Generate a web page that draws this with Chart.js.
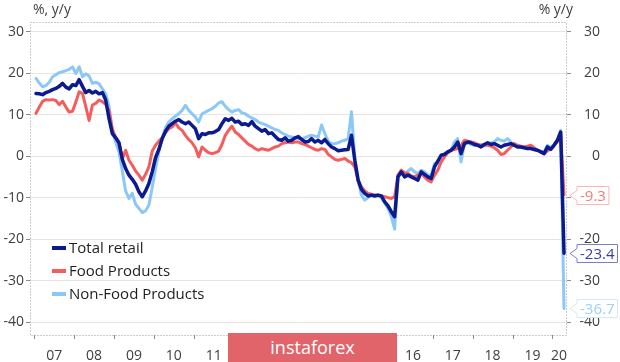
<!DOCTYPE html>
<html>
<head>
<meta charset="utf-8">
<script src="https://cdn.jsdelivr.net/npm/chart.js@4.4.1/dist/chart.umd.min.js"></script>
<style>
  html, body { margin: 0; padding: 0; background: #fff; }
  #wrap { position: relative; width: 620px; height: 362px; }
  #badge {
    position: absolute; left: 228px; top: 333px; width: 169px; height: 29px;
    background: #e1646a; color: #fff; font: 18px "Open Sans", sans-serif;
    text-align: center; line-height: 28px;
  }
</style>
</head>
<body>
<div id="wrap">
  <canvas id="retail-chart" width="620" height="362"></canvas>
  <div id="badge">instaforex</div>
</div>
<script>
// monthly, Jan 2007 .. Apr 2020
const years = ["07", "08", "09", "10", "11", "12", "13", "14", "15", "16", "17", "18", "19", "20"];
const yTicks = [30, 20, 10, 0, -10, -20, -30, -40];

const totalRetail = [
  15.1, 15.0, 14.8, 15.3, 15.6, 16.0, 16.3, 16.8, 17.5, 16.6, 16.2, 17.2,
  17.0, 18.4, 16.8, 15.3, 15.8, 15.2, 15.6, 15.0, 15.3, 13.5, 9.0, 5.4,
  4.4, 3.2, -0.8, -3.0, -4.6, -5.6, -6.8, -8.6, -9.8, -8.4, -6.6, -3.8,
  -0.4, 1.6, 4.2, 6.0, 7.2, 7.8, 8.4, 8.8, 8.2, 7.8, 8.2, 7.4,
  6.6, 4.2, 5.4, 5.2, 5.6, 5.6, 5.9, 6.4, 7.8, 9.0, 8.6, 9.1,
  8.2, 8.4, 7.6, 7.8, 7.4, 8.3, 7.2, 6.6, 6.0, 6.4, 5.4, 5.6,
  4.8, 4.0, 3.8, 4.4, 3.6, 3.8, 4.4, 4.7, 4.0, 3.4, 3.5, 4.2,
  3.4, 3.8, 3.2, 4.0, 3.0, 2.2, 1.8, 1.3, 1.4, 1.5, 1.6, 5.0,
  -1.0, -5.8, -8.0, -9.0, -9.6, -9.4, -9.6, -9.4, -9.6, -11.0, -12.0, -13.4,
  -14.6, -5.0, -3.8, -5.0, -4.6, -5.0, -5.4, -5.8, -3.8, -4.4, -5.0, -5.4,
  -2.6, -1.2, 0.2, 0.4, 1.0, 1.4, 2.2, 3.4, 0.6, 3.0, 3.4, 3.2,
  2.8, 2.6, 2.2, 2.8, 3.2, 2.8, 3.0, 2.6, 2.2, 2.6, 2.8, 3.0,
  2.6, 2.2, 2.2, 2.0, 1.8, 1.8, 1.6, 1.4, 1.0, 0.6, 2.2, 1.6,
  2.6, 3.8, 5.8, -23.4
];

const foodProducts = [
  10.3, 11.8, 13.2, 13.6, 13.5, 13.6, 13.4, 12.4, 13.2, 11.8, 10.6, 10.8,
  13.0, 15.5, 15.1, 11.9, 8.6, 12.3, 12.7, 13.5, 13.1, 12.5, 11.0, 6.5,
  4.5, 3.1, -0.6, 1.4, -1.0, -2.2, -3.6, -4.6, -5.8, -4.4, -2.6, 1.2,
  2.6, 3.6, 4.4, 5.6, 6.6, 7.0, 8.0, 6.8, 6.2, 5.0, 4.0, 3.2,
  2.0, -0.2, 2.2, 1.4, 0.8, 0.6, 0.8, 1.2, 2.8, 5.0, 6.2, 7.2,
  5.8, 5.2, 4.4, 3.6, 2.8, 2.4, 1.8, 1.4, 1.8, 1.6, 1.4, 1.8,
  2.2, 2.4, 3.0, 3.2, 3.4, 3.2, 3.4, 3.4, 3.0, 2.8, 2.4, 2.0,
  1.6, 1.4, 1.8, 1.6, 0.4, -0.2, -0.8, -1.0, -0.8, -0.6, -1.2, -1.6,
  -2.6, -5.8, -7.4, -8.4, -9.0, -9.2, -9.4, -9.4, -9.6, -9.8, -10.0, -10.2,
  -9.8, -4.6, -3.4, -4.0, -4.2, -4.8, -5.0, -4.6, -4.2, -5.0, -5.8, -6.2,
  -4.6, -3.4, -1.4, -0.2, 0.8, 1.4, 1.6, 1.8, 2.6, 3.8, 3.6, 3.4,
  3.2, 2.8, 2.6, 2.8, 2.6, 2.4, 2.0, 1.4, 0.4, 0.6, 1.4, 2.2,
  3.0, 2.6, 2.4, 2.2, 2.4, 2.6, 2.0, 1.4, 1.0, 0.6, 1.2, 1.8,
  2.6, 3.4, 5.4, -9.3
];

const nonFoodProducts = [
  18.7, 17.6, 16.7, 17.0, 17.8, 19.1, 19.6, 20.1, 20.3, 20.6, 20.9, 21.5,
  19.9, 21.5, 19.1, 19.8, 19.3, 17.5, 17.8, 17.4, 16.2, 15.0, 12.0, 6.0,
  3.4, 1.0, -3.6, -8.4, -10.2, -9.0, -11.6, -12.6, -13.6, -13.2, -11.8, -7.6,
  -3.0, 1.0, 4.4, 6.8, 8.2, 9.0, 9.6, 10.2, 11.0, 12.2, 11.0, 10.2,
  9.4, 8.2, 10.2, 10.6, 11.0, 11.4, 12.0, 12.8, 13.1, 12.0, 11.2, 10.6,
  11.0, 11.2, 10.4, 10.2, 9.6, 9.2, 8.8, 8.2, 7.9, 7.6, 7.2, 6.8,
  6.4, 6.2, 5.6, 5.2, 4.8, 4.6, 4.4, 4.2, 4.2, 4.4, 4.8, 5.0,
  4.8, 4.6, 7.5, 5.4, 3.6, 3.0, 3.0, 3.2, 3.6, 3.8, 4.2, 10.7,
  -0.6, -6.0, -9.4, -10.6, -10.0, -9.4, -9.4, -9.6, -10.0, -11.4, -12.6, -14.6,
  -17.6, -5.0, -4.2, -4.4, -3.6, -3.0, -3.8, -4.2, -3.4, -3.8, -4.6, -4.6,
  -1.8, -1.6, 0.2, 0.6, 1.0, 1.4, 3.4, 4.2, -1.4, 3.0, 3.2, 2.8,
  2.6, 2.8, 2.6, 2.4, 2.8, 3.2, 3.4, 4.2, 3.8, 3.6, 4.2, 3.4,
  2.6, 2.4, 2.2, 2.0, 2.0, 1.8, 1.6, 1.4, 1.2, 1.0, 2.6, 2.0,
  2.8, 3.8, 6.2, -36.7
];

const NAVY = "#0b1a8f";
const RED = "#f55d5d";
const SKY = "#8cc8f7";
const FONT = '"Open Sans", sans-serif';

const toPoints = (arr) => arr.map((v, i) => ({ x: i, y: v }));

// year label sits in the middle of its months, 2020 only has Jan-Apr
const yearCenters = years.map((y, k) => (k < years.length - 1 ? k * 12 + 5.5 : k * 12 + 1.5));
const yearEdges = years.map((y, k) => k * 12 - 0.5);

const endTags = [
  { data: foodProducts, text: RED, text2: "#ef7d7d", border: "#f6b9b9" },
  { data: totalRetail, text: NAVY, text2: "#3a3aa6", border: "#7c7cca" },
  { data: nonFoodProducts, text: SKY, text2: "#9fcff5", border: "#d2e8fb" },
];

const decor = {
  id: "decor",
  afterDraw(chart) {
    const { ctx, chartArea: a, scales } = chart;
    ctx.save();

    // dotted frame
    ctx.strokeStyle = "#9a9a9a";
    ctx.lineWidth = 1;
    ctx.setLineDash([1, 2]);
    ctx.strokeRect(a.left + 0.5, a.top + 0.5, a.right - a.left - 1, a.bottom - a.top);
    ctx.setLineDash([]);

    // year ticks on the bottom edge
    ctx.strokeStyle = "#8a8a8a";
    yearEdges.forEach((v) => {
      const px = Math.round(scales.x.getPixelForValue(v)) + 0.5;
      ctx.beginPath();
      ctx.moveTo(px, a.bottom);
      ctx.lineTo(px, a.bottom + 4);
      ctx.stroke();
    });

    // axis units
    ctx.fillStyle = "#404040";
    ctx.font = "14px " + FONT;
    ctx.textBaseline = "middle";
    ctx.textAlign = "left";
    ctx.fillText("%, y/y", 33, 10);
    ctx.textAlign = "right";
    ctx.fillText("% y/y", 573, 10);

    // legend inside the plot
    const rows = [
      ["Total retail", NAVY],
      ["Food Products", RED],
      ["Non-Food Products", SKY],
    ];
    ctx.font = "15px " + FONT;
    ctx.textAlign = "left";
    rows.forEach(([label, color], r) => {
      const y = 248 + r * 23;
      ctx.strokeStyle = color;
      ctx.lineWidth = 4;
      ctx.beginPath();
      ctx.moveTo(52, y);
      ctx.lineTo(66, y);
      ctx.stroke();
      ctx.fillStyle = "#1e1e1e";
      ctx.fillText(label, 69, y + 1);
    });

    // last-value tags on the right
    ctx.font = "15px " + FONT;
    endTags.forEach((t) => {
      const v = t.data[t.data.length - 1];
      const y = Math.round(scales.y.getPixelForValue(v)) + 0.5;
      const txt = v.toFixed(1);
      const w = ctx.measureText(txt).width + 6;
      const tip = 570;
      const left = 577;
      const h = 18;
      ctx.beginPath();
      ctx.moveTo(tip, y);
      ctx.lineTo(left, y - 5);
      ctx.lineTo(left, y - h / 2);
      ctx.lineTo(left + w, y - h / 2);
      ctx.lineTo(left + w, y + h / 2);
      ctx.lineTo(left, y + h / 2);
      ctx.lineTo(left, y + 5);
      ctx.closePath();
      ctx.fillStyle = "#fff";
      ctx.fill();
      ctx.strokeStyle = t.border;
      ctx.lineWidth = 1;
      ctx.stroke();
      ctx.fillStyle = t.text2;
      ctx.textAlign = "left";
      ctx.fillText(txt, left + 3, y + 1);
    });

    ctx.restore();
  },
};

const yAxisBase = {
  type: "linear",
  min: -43.1,
  max: 32.3,
  afterBuildTicks: (s) => {
    s.ticks = yTicks.map((v) => ({ value: v }));
  },
  border: { display: false },
  ticks: {
    color: "#404040",
    font: { family: FONT, size: 14 },
    padding: 2,
  },
};

const chartEl = document.getElementById("retail-chart");
if (chartEl) {
  // eslint-disable-next-line no-unused-vars
  const retailChart = new Chart(chartEl, {
    type: "line",
    data: {
      datasets: [
        {
          label: "Total retail",
          data: toPoints(totalRetail),
          borderColor: NAVY,
          borderWidth: 3.5,
        },
        {
          label: "Food Products",
          data: toPoints(foodProducts),
          borderColor: RED,
          borderWidth: 3,
        },
        {
          label: "Non-Food Products",
          data: toPoints(nonFoodProducts),
          borderColor: SKY,
          borderWidth: 3,
        },
      ],
    },
    options: {
      responsive: false,
      animation: false,
      devicePixelRatio: 1,
      layout: { padding: { top: 22, right: 20, bottom: 0, left: 0 } },
      plugins: {
        legend: { display: false },
        tooltip: { enabled: false },
      },
      elements: {
        line: { tension: 0, borderJoinStyle: "round", borderCapStyle: "round" },
        point: { radius: 0, hitRadius: 0, hoverRadius: 0 },
      },
      scales: {
        x: {
          type: "linear",
          min: -1.8,
          max: 159.9,
          afterBuildTicks: (s) => {
            s.ticks = yearCenters.map((v) => ({ value: v }));
          },
          afterFit: (s) => {
            s.height = 27;
          },
          grid: { display: false },
          border: { display: false },
          ticks: {
            color: "#404040",
            font: { family: FONT, size: 14 },
            padding: 5,
            maxRotation: 0,
            autoSkip: false,
            callback: (v, i) => years[i],
          },
        },
        y: {
          ...yAxisBase,
          position: "left",
          afterFit: (s) => {
            s.width = 30;
          },
          grid: {
            color: "#e4e4e4",
            tickColor: "#8a8a8a",
            tickLength: 4,
          },
        },
        y2: {
          ...yAxisBase,
          position: "right",
          afterFit: (s) => {
            s.width = 33;
          },
          grid: {
            drawOnChartArea: false,
            tickColor: "#8a8a8a",
            tickLength: 4,
          },
          ticks: { ...yAxisBase.ticks, crossAlign: "far" },
        },
      },
    },
    plugins: [decor],
  });
}
</script>
</body>
</html>
